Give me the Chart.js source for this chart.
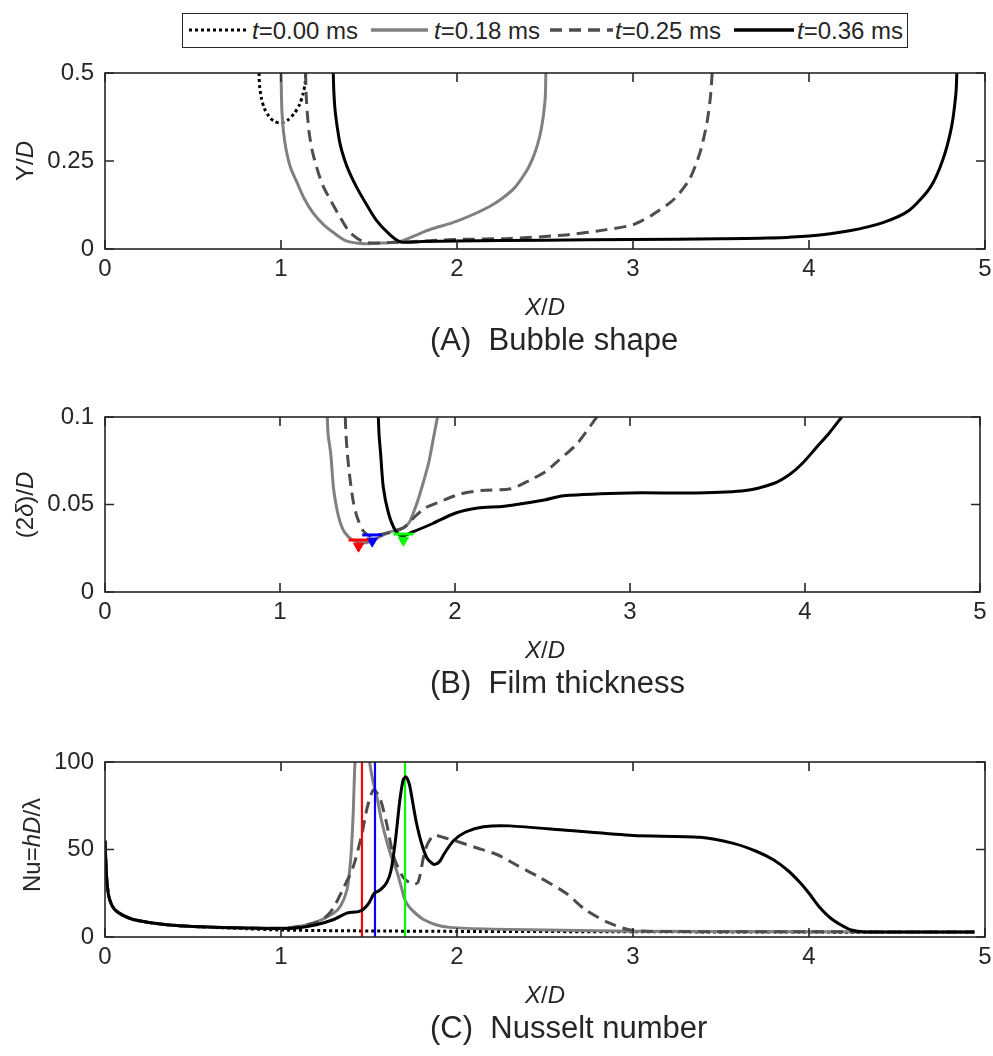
<!DOCTYPE html>
<html><head><meta charset="utf-8">
<script src="https://cdn.jsdelivr.net/npm/chart.js@4/dist/chart.umd.min.js"></script>
<style>
html,body{margin:0;padding:0;background:#fff}
body{width:993px;height:1056px;position:relative;overflow:hidden;font-family:"Liberation Sans",Arial,sans-serif;color:#262626}
canvas{position:absolute;left:0}
.lbl{position:absolute;white-space:pre;font-size:24px;line-height:1;transform:translate(-50%,-50%)}
.rot{transform:translate(-50%,-50%) rotate(-90deg)}
.ttl{position:absolute;white-space:pre;font-size:31px;line-height:1;transform:translate(0,-50%)}
#legend{position:absolute;left:182px;top:13px;width:726px;height:35px;border:1.6px solid #262626;box-sizing:border-box;background:#fff}
#legend svg{position:absolute;top:13px}
#legend span{position:absolute;top:5px;font-size:24px;line-height:1;white-space:pre}
</style></head>
<body>
<div id="legend">
  <svg style="left:6px" width="57" height="6"><line x1="0" y1="3" x2="57" y2="3" stroke="#000" stroke-width="3" stroke-dasharray="3 3"/></svg>
  <span style="left:69px"><i>t</i>=0.00 ms</span>
  <svg style="left:188px" width="57" height="6"><line x1="0" y1="3" x2="57" y2="3" stroke="#808080" stroke-width="3.5"/></svg>
  <span style="left:251px"><i>t</i>=0.18 ms</span>
  <svg style="left:367px" width="63" height="6"><line x1="0" y1="3" x2="63" y2="3" stroke="#4d4d4d" stroke-width="3.5" stroke-dasharray="12 7"/></svg>
  <span style="left:432px"><i>t</i>=0.25 ms</span>
  <svg style="left:551px" width="60" height="6"><line x1="0" y1="3" x2="60" y2="3" stroke="#000" stroke-width="3.5"/></svg>
  <span style="left:614px"><i>t</i>=0.36 ms</span>
</div>

<canvas id="cA" width="993" height="236" style="top:58px"></canvas>
<canvas id="cB" width="993" height="235" style="top:402px"></canvas>
<canvas id="cC" width="993" height="235" style="top:747px"></canvas>

<div class="lbl rot" style="left:25px;top:161px">Y/<i>D</i></div>
<div class="lbl" style="left:545px;top:307px"><i>X</i>/<i>D</i></div>
<div class="ttl" style="left:430px;top:339px">(A)  Bubble shape</div>

<div class="lbl rot" style="left:25px;top:505px">(2<i>δ</i>)/<i>D</i></div>
<div class="lbl" style="left:545px;top:650px"><i>X</i>/<i>D</i></div>
<div class="ttl" style="left:430px;top:682px">(B)  Film thickness</div>

<div class="lbl rot" style="left:32px;top:845px">Nu=<i>hD</i>/λ</div>
<div class="lbl" style="left:545px;top:995px"><i>X</i>/<i>D</i></div>
<div class="ttl" style="left:430px;top:1027px">(C)  Nusselt number</div>

<script>
// ---------- tick labels ----------
const xTicks = [0, 1, 2, 3, 4, 5];
const yTicksA = [0, 0.25, 0.5];
const yTicksB = [0, 0.05, 0.1];
const yTicksC = [0, 50, 100];

// ---------- (A) Bubble shape: [X/D, Y/D] ----------
const a000 = [[0.875,0.5],[0.878,0.465],[0.888,0.43],[0.905,0.40],[0.93,0.378],[0.96,0.363],[0.995,0.358],[1.035,0.365],[1.075,0.385],[1.105,0.41],[1.125,0.44],[1.137,0.47],[1.14,0.5]];
const a018 = [[1.0,0.5],[1.002,0.45],[1.005,0.395],[1.015,0.33],[1.03,0.28],[1.055,0.23],[1.09,0.19],[1.13,0.145],[1.18,0.104],[1.24,0.07],[1.30,0.046],[1.37,0.023],[1.47,0.015],[1.58,0.017],[1.68,0.022],[1.76,0.038],[1.85,0.056],[2.0,0.079],[2.19,0.122],[2.32,0.17],[2.41,0.235],[2.47,0.32],[2.50,0.42],[2.505,0.5]];
const a025 = [[1.14,0.5],[1.142,0.45],[1.148,0.395],[1.16,0.33],[1.18,0.274],[1.21,0.22],[1.24,0.178],[1.28,0.14],[1.32,0.104],[1.39,0.048],[1.47,0.02],[1.56,0.017],[1.7,0.02],[2.0,0.027],[2.3,0.03],[2.62,0.04],[2.85,0.055],[3.0,0.069],[3.11,0.097],[3.23,0.14],[3.32,0.197],[3.38,0.273],[3.42,0.358],[3.44,0.432],[3.45,0.5]];
const a036 = [[1.297,0.5],[1.3,0.45],[1.307,0.396],[1.32,0.345],[1.335,0.30],[1.36,0.255],[1.39,0.216],[1.43,0.175],[1.47,0.14],[1.54,0.083],[1.62,0.04],[1.68,0.02],[1.8,0.021],[2.0,0.023],[2.5,0.025],[3.0,0.027],[3.5,0.029],[3.76,0.031],[4.0,0.037],[4.23,0.052],[4.42,0.075],[4.57,0.11],[4.69,0.176],[4.76,0.253],[4.81,0.347],[4.835,0.443],[4.84,0.5]];

// ---------- (B) Film thickness: [X/D, (2δ)/D] ----------
const b018 = [[1.27,0.1],[1.275,0.09],[1.29,0.079],[1.305,0.06],[1.32,0.05],[1.335,0.043],[1.35,0.038],[1.37,0.034],[1.41,0.030],[1.47,0.028],[1.52,0.029],[1.56,0.031],[1.62,0.034],[1.705,0.0366],[1.74,0.040],[1.765,0.046],[1.79,0.053],[1.82,0.063],[1.85,0.074],[1.875,0.087],[1.90,0.1]];
const b025 = [[1.373,0.1],[1.377,0.09],[1.385,0.079],[1.395,0.069],[1.406,0.06],[1.42,0.051],[1.44,0.043],[1.475,0.035],[1.515,0.032],[1.58,0.033],[1.65,0.0345],[1.71,0.037],[1.77,0.043],[1.83,0.048],[1.90,0.051],[2.03,0.056],[2.15,0.058],[2.32,0.059],[2.43,0.064],[2.52,0.069],[2.59,0.075],[2.70,0.085],[2.81,0.1]];
const b036 = [[1.562,0.1],[1.566,0.09],[1.575,0.079],[1.59,0.06],[1.62,0.045],[1.66,0.035],[1.695,0.032],[1.75,0.034],[1.87,0.039],[2.0,0.045],[2.13,0.048],[2.28,0.049],[2.51,0.0526],[2.62,0.055],[3.0,0.0566],[3.38,0.0566],[3.66,0.058],[3.82,0.062],[3.91,0.067],[3.99,0.074],[4.06,0.082],[4.14,0.091],[4.21,0.1]];
// minimum film thickness markers: [X/D, (2δ)/D]
const minRed = [1.449, 0.0297];
const minBlue = [1.527, 0.0326];
const minGreen = [1.705, 0.0331];

// ---------- (C) Nusselt number: [X/D, Nu] ----------
const c000 = [[0,55],[0.004,45],[0.01,33],[0.02,24],[0.035,19],[0.057,15.5],[0.1,12.5],[0.16,10],[0.25,8.3],[0.35,7],[0.5,6],[0.73,5],[1.0,4.0],[1.3,3.6],[1.6,3.4],[2.0,3.2],[3.0,3.0],[4.0,2.8],[4.94,2.7]];
const c018 = [[0,55],[0.004,45],[0.01,33],[0.02,24],[0.035,19],[0.057,15.5],[0.1,12.5],[0.16,10],[0.25,8.3],[0.35,7],[0.5,6],[0.73,5.3],[1.0,5],[1.1,6],[1.2,8.5],[1.3,13.7],[1.34,18],[1.375,27],[1.39,38],[1.40,50],[1.41,70],[1.42,99],[1.44,130],[1.47,140],[1.49,120],[1.505,99],[1.525,88],[1.545,80],[1.57,67],[1.60,55],[1.63,45],[1.66,37],[1.685,28],[1.705,21],[1.73,17],[1.77,13],[1.81,10],[1.88,7],[1.96,5.5],[2.2,4.5],[2.6,3.8],[3.0,3.3],[4.0,3],[4.94,2.8]];
const c025 = [[0,55],[0.004,45],[0.01,33],[0.02,24],[0.035,19],[0.057,15.5],[0.1,12.5],[0.16,10],[0.25,8.3],[0.35,7],[0.5,6],[0.73,5.3],[1.0,5],[1.1,6],[1.2,8.5],[1.26,12],[1.3,17],[1.35,27],[1.41,40],[1.46,59],[1.49,74],[1.525,84],[1.56,80],[1.6,65],[1.64,46],[1.695,34],[1.75,30],[1.78,31.5],[1.82,50],[1.865,58],[1.92,57],[2.02,54],[2.11,51],[2.23,47],[2.34,41],[2.47,34],[2.62,25],[2.73,15.5],[2.85,8.7],[2.97,4.3],[3.1,3.2],[4.0,3],[4.94,2.8]];
const c036 = [[0,55],[0.004,45],[0.01,33],[0.02,24],[0.035,19],[0.057,15.5],[0.1,12.5],[0.16,10],[0.25,8.3],[0.35,7],[0.5,6],[0.73,5.3],[1.0,4.8],[1.1,5.3],[1.2,7],[1.3,10],[1.37,13.5],[1.41,14.2],[1.44,14.5],[1.47,16],[1.5,19.5],[1.53,25],[1.565,27],[1.6,31],[1.625,38],[1.65,55],[1.675,78],[1.695,90],[1.71,91.5],[1.73,87],[1.75,76],[1.77,65],[1.8,53],[1.83,45],[1.86,42],[1.875,41.5],[1.9,43],[1.93,48],[1.98,55],[2.05,60],[2.15,63],[2.3,63.5],[2.62,61],[3.0,58],[3.38,57],[3.57,53.5],[3.7,49],[3.8,44],[3.88,38],[3.95,31],[4.0,25],[4.06,17],[4.12,11],[4.18,7],[4.24,4],[4.3,3],[4.5,2.8],[4.94,2.8]];
// vertical marker lines (X/D)
const vRed = 1.46, vBlue = 1.534, vGreen = 1.705;

// ---------- helpers ----------
const FONT = '"Liberation Sans", Arial, sans-serif';
const INK = '#262626';
const pts = arr => arr.map(p => ({x: p[0], y: p[1]}));

const boxPlugin = {
  id: 'matlabBox',
  afterDatasetsDraw(chart) {
    const {ctx, chartArea: a, scales: {x, y}} = chart;
    ctx.save();
    ctx.strokeStyle = INK;
    ctx.lineWidth = 1.6;
    ctx.beginPath();
    x.ticks.forEach(t => {
      const p = x.getPixelForValue(t.value);
      ctx.moveTo(p, a.bottom); ctx.lineTo(p, a.bottom - 9);
      ctx.moveTo(p, a.top); ctx.lineTo(p, a.top + 9);
    });
    y.ticks.forEach(t => {
      const p = y.getPixelForValue(t.value);
      ctx.moveTo(a.left, p); ctx.lineTo(a.left + 9, p);
      ctx.moveTo(a.right, p); ctx.lineTo(a.right - 9, p);
    });
    ctx.stroke();
    ctx.strokeRect(a.left, a.top, a.right - a.left, a.bottom - a.top);
    ctx.restore();
  }
};

function curve(data, color, dash, width, order) {
  return {data: pts(data), showLine: true, borderColor: color, backgroundColor: color,
          borderWidth: width || 3, borderDash: dash || [], pointRadius: 0, tension: 0.25, order: order, fill: false};
}

function makeChart(id, datasets, yMin, yMax, yTicks) {
  return new Chart(document.getElementById(id), {
    type: 'scatter',
    data: {datasets},
    options: {
      responsive: false, animation: false,
      layout: {padding: {top: 15, right: 8, left: 0, bottom: 0}},
      plugins: {legend: {display: false}, tooltip: {enabled: false}},
      scales: {
        x: {type: 'linear', min: 0, max: 5,
            afterBuildTicks: s => { s.ticks = xTicks.map(v => ({value: v})); },
            afterFit: s => { s.height = 45; s.paddingLeft = 0; s.paddingRight = 0; },
            ticks: {callback: v => String(v), font: {family: FONT, size: 24}, color: INK, padding: 6, maxRotation: 0, autoSkip: false},
            grid: {display: false, drawTicks: false}, border: {display: false}},
        y: {type: 'linear', min: yMin, max: yMax,
            afterBuildTicks: s => { s.ticks = yTicks.map(v => ({value: v})); },
            afterFit: s => { s.width = 105; s.paddingTop = 0; s.paddingBottom = 0; },
            ticks: {callback: v => String(v), font: {family: FONT, size: 24}, color: INK, padding: 11, autoSkip: false},
            grid: {display: false, drawTicks: false}, border: {display: false}}
      }
    },
    plugins: [boxPlugin]
  });
}

const GRAY = '#808080', DGRAY = '#4d4d4d';

makeChart('cA', [
  curve(a000, '#000', [3, 3], 3, 3),
  curve(a018, GRAY, [], 3, 2),
  curve(a025, DGRAY, [12, 7], 3, 1),
  curve(a036, '#000', [], 3, 0)
], 0, 0.5, yTicksA);

function barMark(p, color) {
  return {data: [{x: p[0], y: p[1]}], showLine: false, pointStyle: 'line', pointRadius: 10,
          borderColor: color, backgroundColor: color, pointBorderWidth: 3, borderWidth: 3, order: -1};
}
function triMark(p, color) {
  return {data: [{x: p[0], y: p[1]}], showLine: false, pointStyle: 'triangle', pointRotation: 180, pointRadius: 6,
          borderColor: color, backgroundColor: color, borderWidth: 1, order: -1};
}
// triangles sit just below the bar
function triBelow(p) { return [p[0], p[1] - 0.0035]; }

makeChart('cB', [
  curve(b018, GRAY, [], 3, 2),
  curve(b025, DGRAY, [12, 7], 3, 1),
  curve(b036, '#000', [], 3, 0),
  barMark(minRed, '#ff0000'), triMark(triBelow(minRed), '#ff0000'),
  barMark(minBlue, '#0000ff'), triMark(triBelow(minBlue), '#0000ff'),
  barMark(minGreen, '#00ff00'), triMark(triBelow(minGreen), '#00ff00')
], 0, 0.1, yTicksB);

function vline(xv, color) {
  return {data: [{x: xv, y: 0}, {x: xv, y: 100}], showLine: true, borderColor: color, borderWidth: 2.2, pointRadius: 0, order: 0.5};
}

makeChart('cC', [
  curve(c000, '#000', [3, 3], 3, 3),
  curve(c018, GRAY, [], 3, 2),
  curve(c025, DGRAY, [12, 7], 3, 1),
  vline(vRed, '#ff0000'), vline(vBlue, '#0000ff'), vline(vGreen, '#00ff00'),
  curve(c036, '#000', [], 3, 0)
], 0, 100, yTicksC);
</script>
</body></html>
